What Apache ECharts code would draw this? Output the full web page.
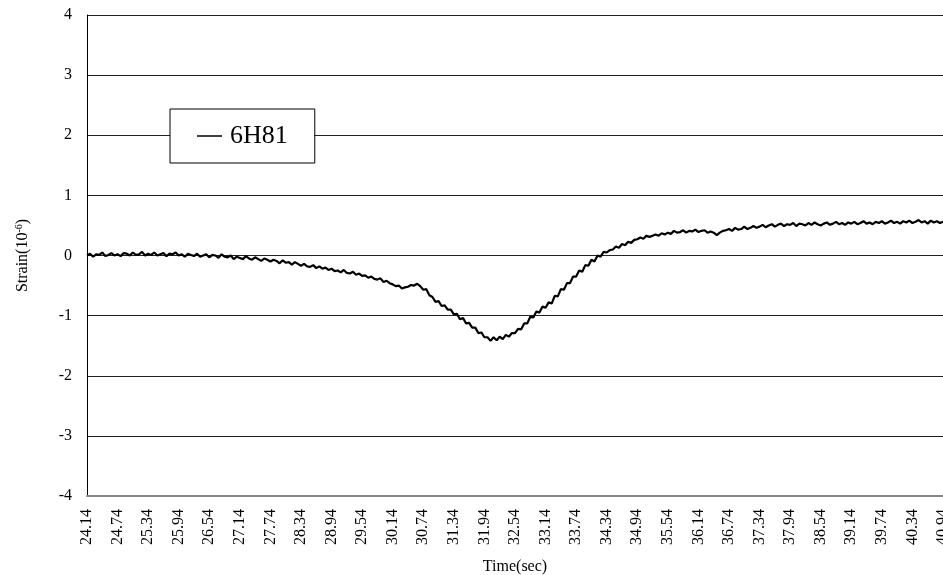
<!DOCTYPE html>
<html>
<head>
<meta charset="utf-8">
<style>
  html, body { margin: 0; padding: 0; background: #fff; }
  #chart { width: 943px; height: 575px; }
</style>
<script src="https://cdn.jsdelivr.net/npm/echarts@6/dist/echarts.min.js"></script>
</head>
<body>
<div id="chart"></div>
<script>
// Sampling grid of the strain record (seconds)
const timeStart = 24.14;
const timeStep = 0.06;

// Strain readings (10^-6), one per sample, 10 samples per 0.6 s row
const strain = [
  0.00, 0.03, -0.02, 0.02, 0.01, 0.05, -0.01, 0.01, 0.04, 0.00,
  0.02, -0.01, 0.04, 0.03, 0.00, 0.05, 0.01, 0.02, 0.06, 0.00,
  0.03, 0.01, 0.05, 0.00, 0.02, 0.04, -0.01, 0.03, 0.02, 0.05,
  0.00, 0.02, -0.02, 0.03, 0.01, -0.01, 0.03, -0.02, 0.00, 0.02,
  -0.03, 0.01, 0.00, -0.04, 0.02, -0.02, -0.03, 0.00, -0.06, -0.02,
  -0.04, -0.06, -0.01, -0.05, -0.07, -0.03, -0.06, -0.09, -0.05, -0.07,
  -0.10, -0.07, -0.09, -0.13, -0.08, -0.12, -0.11, -0.15, -0.11, -0.14,
  -0.17, -0.14, -0.18, -0.19, -0.16, -0.21, -0.18, -0.22, -0.20, -0.24,
  -0.22, -0.26, -0.25, -0.28, -0.24, -0.29, -0.30, -0.27, -0.32, -0.30,
  -0.34, -0.33, -0.37, -0.35, -0.39, -0.40, -0.38, -0.44, -0.42, -0.46,
  -0.48, -0.51, -0.50, -0.55, -0.53, -0.52, -0.49, -0.50, -0.47, -0.51,
  -0.57, -0.56, -0.66, -0.69, -0.77, -0.76, -0.84, -0.83, -0.90, -0.90,
  -0.98, -0.97, -1.06, -1.04, -1.13, -1.12, -1.20, -1.20, -1.29, -1.28,
  -1.36, -1.36, -1.42, -1.36, -1.41, -1.35, -1.39, -1.32, -1.35, -1.29,
  -1.29, -1.22, -1.23, -1.13, -1.13, -1.02, -1.03, -0.93, -0.95, -0.85,
  -0.87, -0.78, -0.80, -0.67, -0.68, -0.56, -0.57, -0.46, -0.46, -0.35,
  -0.35, -0.25, -0.27, -0.16, -0.17, -0.07, -0.10, 0.00, -0.02, 0.06,
  0.05, 0.09, 0.10, 0.15, 0.13, 0.19, 0.17, 0.23, 0.21, 0.26,
  0.27, 0.30, 0.28, 0.33, 0.31, 0.33, 0.35, 0.33, 0.37, 0.35,
  0.38, 0.36, 0.41, 0.38, 0.39, 0.42, 0.38, 0.41, 0.40, 0.43,
  0.39, 0.41, 0.42, 0.38, 0.40, 0.38, 0.34, 0.38, 0.41, 0.42,
  0.44, 0.41, 0.46, 0.43, 0.44, 0.48, 0.44, 0.46, 0.49, 0.46,
  0.48, 0.51, 0.47, 0.50, 0.52, 0.48, 0.51, 0.53, 0.49, 0.52,
  0.51, 0.54, 0.49, 0.53, 0.52, 0.50, 0.54, 0.51, 0.55, 0.52,
  0.50, 0.53, 0.55, 0.51, 0.53, 0.56, 0.52, 0.54, 0.51, 0.55,
  0.53, 0.56, 0.52, 0.54, 0.57, 0.53, 0.55, 0.52, 0.56, 0.54,
  0.57, 0.53, 0.55, 0.58, 0.54, 0.56, 0.53, 0.57, 0.55, 0.58,
  0.54, 0.56, 0.59, 0.55, 0.57, 0.53, 0.58, 0.55, 0.57, 0.54,
  0.56
];

// Time stamps for each sample, labelled every 0.6 s
const times = strain.map((_, i) => (timeStart + i * timeStep).toFixed(2));
const labelEvery = 10;

// Vertical scale
const yMin = -4, yMax = 4, yStep = 1;

const seriesName = '6H81';
const serif = "'Liberation Serif', 'Times New Roman', serif";

const chart = echarts.init(document.getElementById('chart'), null, { renderer: 'canvas' });
chart.setOption({
  animation: false,
  backgroundColor: '#fff',
  grid: { left: 87, right: 0, top: 15, bottom: 79, containLabel: false, outerBoundsMode: 'none' },
  legend: {
    data: [seriesName],
    left: 170,
    top: 109,
    padding: [14, 27, 14, 27],
    backgroundColor: '#fff',
    borderColor: '#000',
    borderWidth: 1,
    borderRadius: 0,
    icon: 'rect',
    itemWidth: 25,
    itemHeight: 1.5,
    itemGap: 0,
    itemStyle: { color: '#000' },
    textStyle: { fontFamily: serif, fontSize: 26, color: '#000', padding: [0, 0, 0, 3] }
  },
  xAxis: {
    type: 'category',
    data: times,
    boundaryGap: false,
    name: 'Time(sec)',
    nameLocation: 'middle',
    nameGap: 63,
    nameTextStyle: { fontFamily: serif, fontSize: 16, color: '#000' },
    axisLine: { onZero: false, lineStyle: { color: '#888', width: 2 } },
    axisTick: { show: false },
    axisLabel: {
      interval: labelEvery - 1,
      rotate: 90,
      margin: 13,
      fontFamily: serif,
      fontSize: 16,
      color: '#000'
    },
    splitLine: { show: false }
  },
  yAxis: {
    type: 'value',
    min: yMin,
    max: yMax,
    interval: yStep,
    name: 'Strain(10{sup|-6})',
    nameLocation: 'middle',
    nameRotate: 90,
    nameGap: 56,
    nameTextStyle: {
      fontFamily: serif, fontSize: 16, color: '#000',
      rich: { sup: { fontFamily: serif, fontSize: 10, color: '#000', verticalAlign: 'top', padding: [0, 0, 7, 0] } }
    },
    axisLine: { show: true, lineStyle: { color: '#000', width: 1 } },
    axisTick: { show: false },
    axisLabel: { fontFamily: serif, fontSize: 16, color: '#000', margin: 15 },
    splitLine: { show: true, lineStyle: { color: '#222', width: 1 } }
  },
  series: [{
    name: seriesName,
    type: 'line',
    data: strain,
    showSymbol: false,
    symbol: 'none',
    lineStyle: { color: '#000', width: 2.2 },
    itemStyle: { color: '#000' }
  }]
});
</script>
</body>
</html>
